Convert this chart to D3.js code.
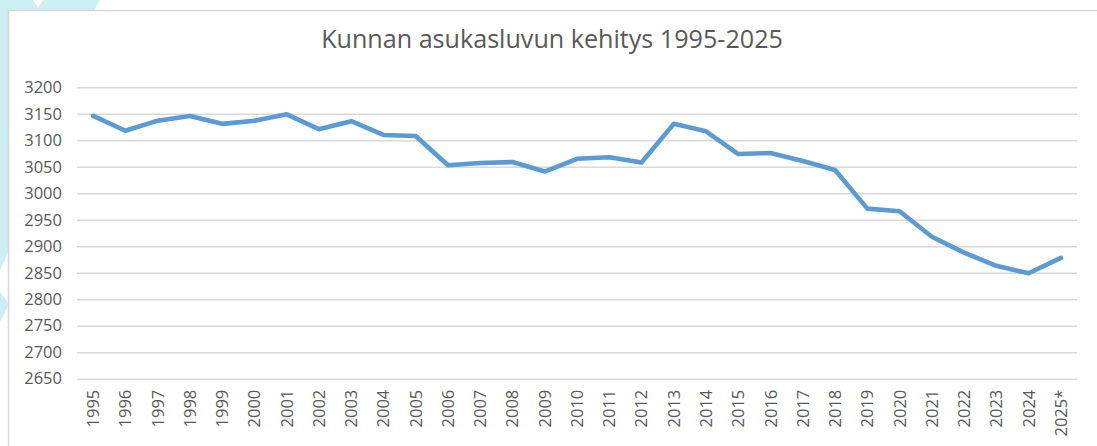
<!DOCTYPE html>
<html>
<head>
<meta charset="utf-8">
<script src="https://cdn.jsdelivr.net/npm/d3@7"></script>
<style>
  html, body { margin: 0; padding: 0; background: #ffffff; }
  svg { display: block; }
  .tick text { font-family: "Open Sans", sans-serif; fill: #595959; }
</style>
</head>
<body>
<script>
//chart data
var years = ["1995","1996","1997","1998","1999","2000","2001","2002","2003","2004",
             "2005","2006","2007","2008","2009","2010","2011","2012","2013","2014",
             "2015","2016","2017","2018","2019","2020","2021","2022","2023","2024","2025*"];
var residents = [3146, 3118, 3137, 3146, 3131, 3137, 3149, 3121, 3136, 3110,
                 3108, 3053, 3057, 3059, 3041, 3065, 3068, 3058, 3131, 3117,
                 3074, 3076, 3061, 3044, 2971, 2966, 2918, 2888, 2863, 2849, 2878];
var yTicks = [2650, 2700, 2750, 2800, 2850, 2900, 2950, 3000, 3050, 3100, 3150, 3200];
var title = "Kunnan asukasluvun kehitys 1995-2025";

window.onload = drawChart();

function drawChart(){

	var width = 1097,
		height = 446;

	var svg = d3.select("body")
		.append("svg")
		.attr("width", width)
		.attr("height", height);

	//light background decoration behind the chart frame
	var deco = "#cdeef3";
	svg.append("polygon")
		.attr("points", "0,0 33,0 38,8 43,0 100,0 93,12 0,12")
		.attr("fill", deco);
	svg.append("polygon")
		.attr("points", "0,0 9,0 9,250 0,270")
		.attr("fill", deco);
	svg.append("polygon")
		.attr("points", "0,292 9,304 0,322")
		.attr("fill", deco);

	//chart frame
	svg.append("rect")
		.attr("x", 8.5)
		.attr("y", 10.5)
		.attr("width", width + 20)
		.attr("height", height + 20)
		.attr("fill", "#ffffff")
		.attr("stroke", "#d6d6d6")
		.attr("stroke-width", 1.5);

	//plot area
	var left = 77, right = 1077, top = 87.3, bottom = 378.7;

	var x = d3.scaleBand()
		.domain(years)
		.range([left, right]);

	var y = d3.scaleLinear()
		.domain([2650, 3200])
		.range([bottom, top]);

	//title
	var t = svg.append("text")
		.attr("x", 552)
		.attr("y", 47.5)
		.attr("text-anchor", "middle")
		.style("font-family", "'Open Sans', sans-serif")
		.style("font-size", "20px")
		.attr("fill", "#595959")
		.text(title);
	var tw = t.node().getComputedTextLength();
	t.style("font-size", (20 * 462 / tw) + "px");

	//horizontal gridlines
	svg.append("g")
		.attr("transform", "translate(" + left + ",0)")
		.call(d3.axisLeft(y)
			.tickValues(yTicks)
			.tickSize(-(right - left))
			.tickPadding(15)
			.tickFormat(d3.format("d")))
		.call(function(g){
			g.select(".domain").remove();
			g.selectAll(".tick line")
				.attr("stroke", "#d9d9d9")
				.attr("stroke-width", 1.5);
			g.selectAll(".tick text")
				.style("font-size", "16.5px");
		});

	//category labels
	svg.append("g")
		.attr("transform", "translate(0," + bottom + ")")
		.call(d3.axisBottom(x).tickSize(0).tickPadding(0))
		.call(function(g){
			g.select(".domain").remove();
			g.selectAll(".tick text")
				.style("font-size", "16.5px")
				.attr("text-anchor", "end")
				.attr("transform", "rotate(-90)")
				.attr("x", -11)
				.attr("y", 0)
				.attr("dy", "0.36em");
		});

	//population line
	var line = d3.line()
		.x(function(d, i){ return x(years[i]) + x.bandwidth() / 2; })
		.y(function(d){ return y(d); });

	svg.append("path")
		.datum(residents)
		.attr("fill", "none")
		.attr("stroke", "#5b9bd5")
		.attr("stroke-width", 4.6)
		.attr("stroke-linejoin", "round")
		.attr("stroke-linecap", "round")
		.attr("d", line);
}
</script>
</body>
</html>
